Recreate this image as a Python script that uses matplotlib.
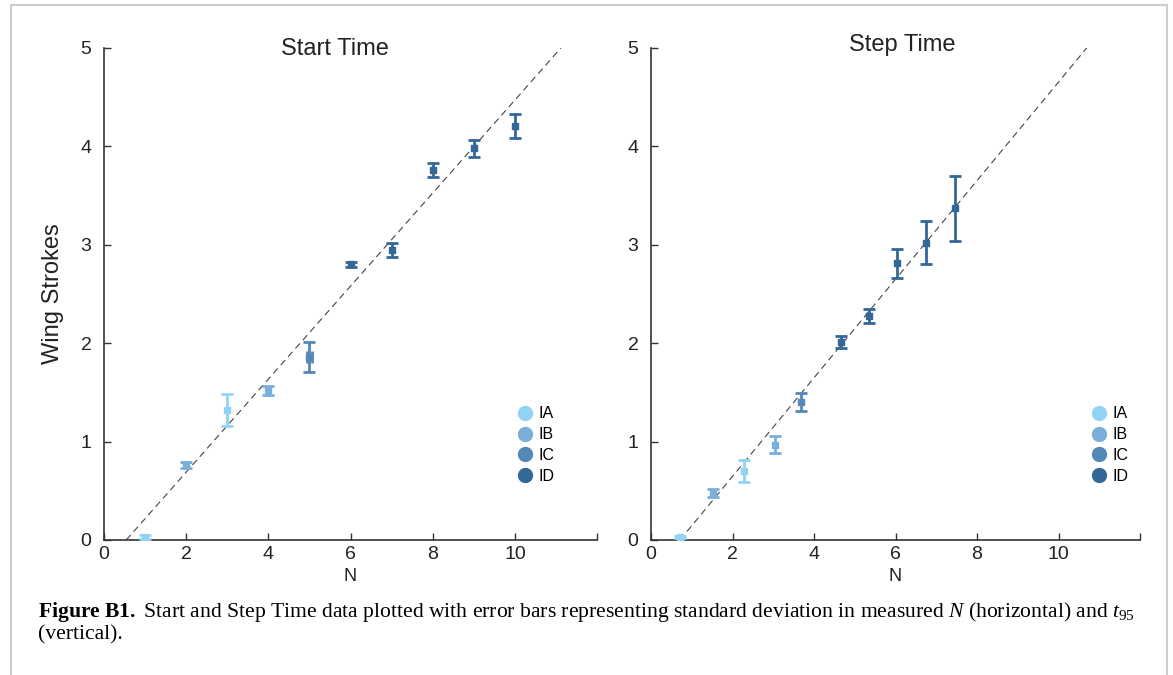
"""
Figure B1: Start Time and Step Time vs N, with error bars.
Writes out.png
"""
import matplotlib
matplotlib.use("Agg")
import matplotlib.pyplot as plt
from matplotlib.lines import Line2D

plt.rcParams["font.family"] = ["Liberation Sans", "DejaVu Sans"]
plt.rcParams["mathtext.fontset"] = "custom"
plt.rcParams["mathtext.rm"] = "Liberation Serif"
plt.rcParams["mathtext.it"] = "Liberation Serif:italic"
plt.rcParams["mathtext.bf"] = "Liberation Serif:bold"

# ── data ──────────────────────────────────────────────────────────────
GROUPS = ["IA", "IB", "IC", "ID"]
GROUP_COLORS = {"IA": "#92d3f4", "IB": "#79afd8", "IC": "#5488b8", "ID": "#336797"}

start_n = [1, 2, 3, 4, 5, 6, 7, 8, 9, 10]
start_y = [0.03, 0.76, 1.32, 1.52, 1.86, 2.80, 2.95, 3.76, 3.98, 4.21]
start_yerr = [0.02, 0.03, 0.16, 0.05, 0.15, 0.03, 0.07, 0.07, 0.09, 0.12]
start_xerr = [0.0, 0.0, 0.0, 0.0, 0.07, 0.0, 0.0, 0.0, 0.0, 0.0]
start_grp = ["IA", "IB", "IA", "IB", "IC", "ID", "ID", "ID", "ID", "ID"]
start_fit_x = [0.54, 11.12]
start_fit_y = [0.0, 5.0]

step_n = [0.70, 1.51, 2.28, 3.04, 3.68, 4.66, 5.34, 6.03, 6.74, 7.45]
step_y = [0.03, 0.48, 0.70, 0.97, 1.40, 2.01, 2.28, 2.81, 3.02, 3.37]
step_yerr = [0.01, 0.04, 0.11, 0.09, 0.09, 0.06, 0.07, 0.15, 0.22, 0.33]
step_xerr = [0.0] * 10
step_grp = ["IA", "IB", "IA", "IB", "IC", "ID", "ID", "ID", "ID", "ID"]
step_fit_x = [0.71, 10.69]
step_fit_y = [0.0, 5.0]

CAPTION = (r"$\mathbf{Figure\ B1.}$ Start and Step Time data plotted with error bars "
           r"representing standard deviation in measured $N$ (horizontal) and $t_{95}$"
           "\n(vertical).")


def _panel(ax, n, y, xerr, yerr, grp, fit_x, fit_y, title, title_pos, legend_x):
    ax.plot(fit_x, fit_y, color="#444444", lw=0.8, dashes=(6, 4), zorder=1)
    for xi, yi, xe, ye, g in zip(n, y, xerr, yerr, grp):
        ax.errorbar(xi, yi, xerr=xe if xe > 0 else None, yerr=ye,
                    fmt="s", ms=4.5, color=GROUP_COLORS[g], ecolor=GROUP_COLORS[g],
                    elinewidth=2, capsize=4, capthick=2, zorder=3)
    ax.set_xlim(0, 12)
    ax.set_ylim(0, 5)
    ax.set_xticks([0, 2, 4, 6, 8, 10, 12])
    ax.set_xticklabels(["0", "2", "4", "6", "8", "10", ""])
    ax.set_yticks([0, 1, 2, 3, 4, 5])
    ax.tick_params(direction="in", length=5, width=1, labelsize=14,
                   color="#333333", labelcolor="#222222")
    ax.tick_params(axis="y", pad=9)
    ax.tick_params(axis="x", pad=4)
    for side in ("top", "right"):
        ax.spines[side].set_visible(False)
    for side in ("left", "bottom"):
        ax.spines[side].set_color("#333333")
        ax.spines[side].set_linewidth(1.2)
    ax.set_xlabel("N", fontsize=13, labelpad=4, color="#222222")
    ax.text(title_pos[0], title_pos[1], title, transform=ax.transAxes,
            ha="center", va="center", fontsize=17, color="#222222")
    handles = [Line2D([], [], marker="o", ls="none", ms=10, color=GROUP_COLORS[g])
               for g in GROUPS]
    ax.legend(handles, GROUPS, loc="center left", bbox_to_anchor=(legend_x, 0.193),
              frameon=False, fontsize=11.5, handlelength=1.0, handletextpad=0.35,
              labelspacing=0.36, borderaxespad=0)


fig = plt.figure(figsize=(11.73, 6.75), dpi=100)
ax1 = fig.add_axes([0.0887, 0.2, 0.4203, 0.7289])
ax2 = fig.add_axes([0.555, 0.2, 0.4169, 0.7289])

_panel(ax1, start_n, start_y, start_xerr, start_yerr, start_grp,
       start_fit_x, start_fit_y, "Start Time", (0.469, 0.998), 0.825)
_panel(ax2, step_n, step_y, step_xerr, step_yerr, step_grp,
       step_fit_x, step_fit_y, "Step Time", (0.513, 1.006), 0.886)
ax1.set_ylabel("Wing Strokes", fontsize=17, labelpad=12, color="#222222")

fig.text(38 / 1173, 1 - 600 / 675, CAPTION, ha="left", va="top",
         fontsize=15.6, family="Liberation Serif", linespacing=1.12)

# light gray frame around the figure
frame = dict(color="#cccccc", lw=1.5, transform=fig.transFigure)
fig.add_artist(Line2D([11 / 1173, 11 / 1173], [0, 1 - 5 / 675], **frame))
fig.add_artist(Line2D([11 / 1173, 1167 / 1173], [1 - 5 / 675, 1 - 5 / 675], **frame))
fig.add_artist(Line2D([1167 / 1173, 1167 / 1173], [0, 1 - 5 / 675], **frame))

fig.savefig("out.png", dpi=100)
